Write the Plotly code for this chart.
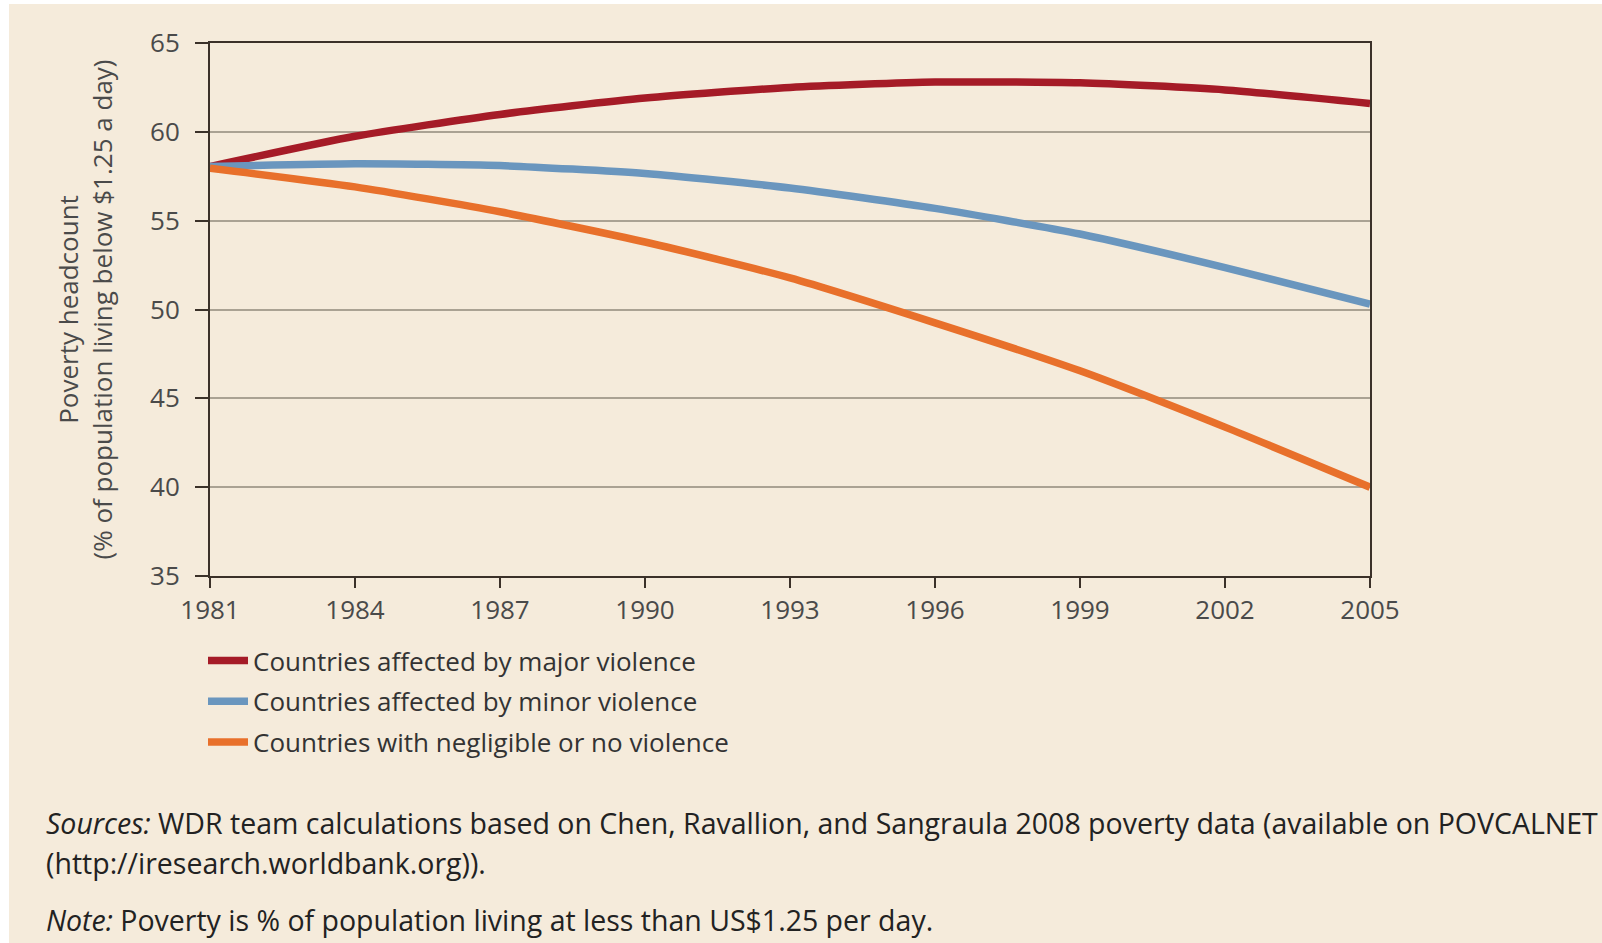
import plotly.graph_objects as go

years = [1981, 1984, 1987, 1990, 1993, 1996, 1999, 2002, 2005]
major = [58.05, 59.75, 60.98, 61.9, 62.5, 62.8, 62.76, 62.36, 61.6]
minor = [58.05, 58.2, 58.1, 57.65, 56.84, 55.69, 54.25, 52.36, 50.3]
negligible = [57.95, 56.9, 55.5, 53.8, 51.78, 49.25, 46.55, 43.38, 40.0]

names = ["Countries affected by major violence",
         "Countries affected by minor violence",
         "Countries with negligible or no violence"]
colors = ["#a51b27", "#6a96be", "#e8702b"]
series = [major, minor, negligible]

BG = "#f5ebdb"
FONT = "Open Sans"
TXT = "#4a4a4a"

fig = go.Figure()
for i, (nm, col, vals) in enumerate(zip(names, colors, series)):
    fig.add_trace(go.Scatter(x=years, y=vals, mode="lines", name=nm,
                             legendgroup=f"g{i}",
                             line=dict(color=col, width=7.5, shape="spline", smoothing=0.6)))

W, H = 1602, 943
L, R, T, B = 210, 1370, 43, 576
pw, ph = R - L, B - T

def px(x):
    return (x - L) / pw

def py(y):
    return (B - y) / ph

fig.add_shape(type="rect", xref="paper", yref="paper", layer="below",
              x0=px(9), x1=px(W + 5), y0=py(H + 5), y1=py(4),
              fillcolor=BG, line=dict(width=0))

SRC = 28.5
fig.add_annotation(xref="paper", yref="paper", x=px(44), y=py(823), xanchor="left", yanchor="middle",
                   showarrow=False, align="left",
                   text="<i>Sources:</i> WDR team calculations based on Chen, Ravallion, and Sangraula 2008 poverty data (available on POVCALNET",
                   font=dict(family=FONT, size=SRC, color="#222"))
fig.add_annotation(xref="paper", yref="paper", x=px(44), y=py(863), xanchor="left", yanchor="middle",
                   showarrow=False, align="left",
                   text="(http://iresearch.worldbank.org)).",
                   font=dict(family=FONT, size=SRC, color="#222"))
fig.add_annotation(xref="paper", yref="paper", x=px(44), y=py(920), xanchor="left", yanchor="middle",
                   showarrow=False, align="left",
                   text="<i>Note:</i> Poverty is % of population living at less than US$1.25 per day.",
                   font=dict(family=FONT, size=SRC, color="#222"))

fig.update_layout(
    width=W, height=H,
    margin=dict(l=L, r=W - R, t=T, b=H - B, autoexpand=False),
    paper_bgcolor="white", plot_bgcolor=BG,
    font=dict(family=FONT, color=TXT),
    showlegend=True,
    legend=dict(x=px(203), y=py(637), xanchor="left", yanchor="top",
                bgcolor="rgba(0,0,0,0)", font=dict(family=FONT, size=26, color="#333"),
                tracegroupgap=4, itemwidth=40),
    xaxis=dict(range=[1981, 2005], tickvals=years, ticktext=[str(y) for y in years],
               showgrid=False, zeroline=False, showline=True, linecolor="#3b3129", linewidth=2,
               mirror=True, ticks="outside", ticklen=10, tickwidth=2, tickcolor="#3b3129",
               tickfont=dict(size=26, color=TXT)),
    yaxis=dict(range=[35, 65], tickvals=[35, 40, 45, 50, 55, 60, 65],
               showgrid=True, gridcolor="#aaa293", gridwidth=2, zeroline=False,
               showline=True, linecolor="#3b3129", linewidth=2, mirror=True,
               ticks="outside", ticklen=13, tickwidth=2, tickcolor="#3b3129",
               ticklabelstandoff=10,
               tickfont=dict(size=26, color=TXT),
               title=dict(text="Poverty headcount<br>(% of population living below $1.25 a day)",
                          font=dict(size=26, color=TXT), standoff=30)),
)

fig.write_html("out.html", config={"displayModeBar": False},
               post_script="document.body.style.margin='0';document.body.style.overflow='hidden';")
